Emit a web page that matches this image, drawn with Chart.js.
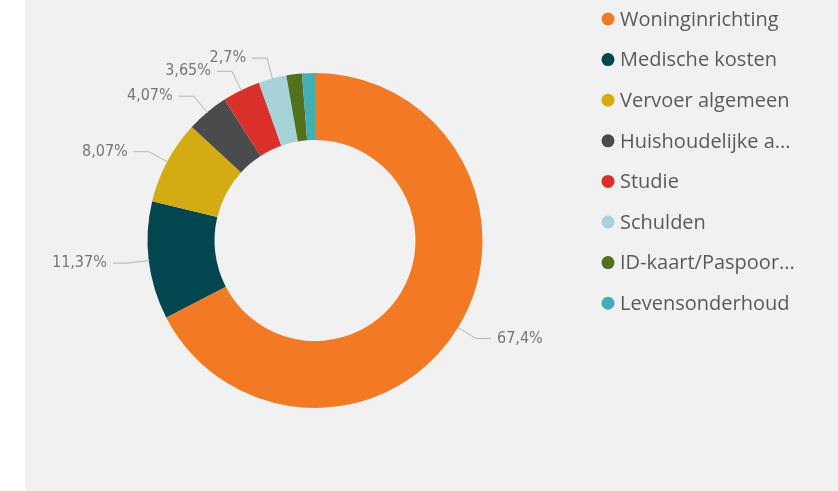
<!DOCTYPE html>
<html>
<head>
<meta charset="utf-8">
<script src="https://cdn.jsdelivr.net/npm/chart.js@4"></script>
<style>
  body { margin:0; background:#fff; width:838px; height:491px; overflow:hidden; }
  #wrap { position:absolute; left:25px; top:0; width:813px; height:491px; background:#f1f1f1; }
</style>
</head>
<body>
<div id="wrap"><canvas id="pie"></canvas></div>
<script>
// categories zoals in de legenda (afgekapt zoals in het origineel)
const categories = ['Woninginrichting', 'Medische kosten', 'Vervoer algemeen', 'Huishoudelijke a...',
                    'Studie', 'Schulden', 'ID-kaart/Paspoor...', 'Levensonderhoud'];
const shares = [67.4, 11.37, 8.07, 4.07, 3.65, 2.7, 1.5, 1.24];
const colors = ['#f37a25', '#02464f', '#d3ab12', '#4a4b4d', '#d9302a', '#a6d3d8', '#51711d', '#45adb6'];
const labelMin = 2; // kleinere stukken krijgen geen label

const fmt = v => String(v).replace('.', ',') + '%';

// --- labels met lijntjes buiten de ring ---
const leaderLabels = {
    id: 'leaderLabels',
    afterDatasetsDraw(chart) {
        const ctx = chart.ctx;
        const arcs = chart.getDatasetMeta(0).data;
        ctx.save();
        ctx.font = '16px "DejaVu Sans Condensed", "DejaVu Sans", sans-serif';
        ctx.textBaseline = 'middle';
        arcs.forEach((arc, i) => {
            const v = shares[i];
            if (v < labelMin) return;
            const p = arc.getProps(['x', 'y', 'startAngle', 'endAngle', 'outerRadius'], true);
            const mid = (p.startAngle + p.endAngle) / 2;
            const cx = Math.cos(mid), cy = Math.sin(mid);
            const r0 = p.outerRadius - 1, r1 = p.outerRadius + 21;
            const x0 = p.x + cx * r0, y0 = p.y + cy * r0;
            const x1 = p.x + cx * r1, y1 = p.y + cy * r1;
            const dir = cx >= 0 ? 1 : -1;
            const x2 = x1 + dir * 15;
            ctx.strokeStyle = '#b4b4b4';
            ctx.lineWidth = 1;
            ctx.beginPath();
            ctx.moveTo(x0, y0);
            ctx.lineTo(x1, y1);
            ctx.lineTo(x2, y1);
            ctx.stroke();
            ctx.fillStyle = '#767676';
            ctx.textAlign = dir > 0 ? 'left' : 'right';
            ctx.fillText(fmt(v), x2 + dir * 6, y1);
        });
        ctx.restore();
    }
};

// --- legenda rechts ---
const sideLegend = {
    id: 'sideLegend',
    afterDraw(chart) {
        const ctx = chart.ctx;
        ctx.save();
        ctx.font = '20px "Open Sans", sans-serif';
        ctx.textBaseline = 'middle';
        ctx.textAlign = 'left';
        categories.forEach((c, i) => {
            const y = 19 + i * 40.6;
            ctx.fillStyle = colors[i];
            ctx.beginPath();
            ctx.arc(583, y, 6.5, 0, Math.PI * 2);
            ctx.fill();
            ctx.fillStyle = '#5a5a5a';
            ctx.fillText(c, 595, y + 1);
        });
        ctx.restore();
    }
};

new Chart(document.getElementById('pie'), {
    type: 'doughnut',
    data: {
        labels: categories,
        datasets: [{
            data: shares,
            backgroundColor: colors,
            borderWidth: 0,
            hoverOffset: 0
        }]
    },
    options: {
        responsive: true,
        maintainAspectRatio: false,
        animation: false,
        cutout: '60%',
        layout: { padding: { left: 122.5, right: 355.5, top: 73, bottom: 83 } },
        plugins: { legend: { display: false }, tooltip: { enabled: false } }
    },
    plugins: [leaderLabels, sideLegend]
});
</script>
</body>
</html>
